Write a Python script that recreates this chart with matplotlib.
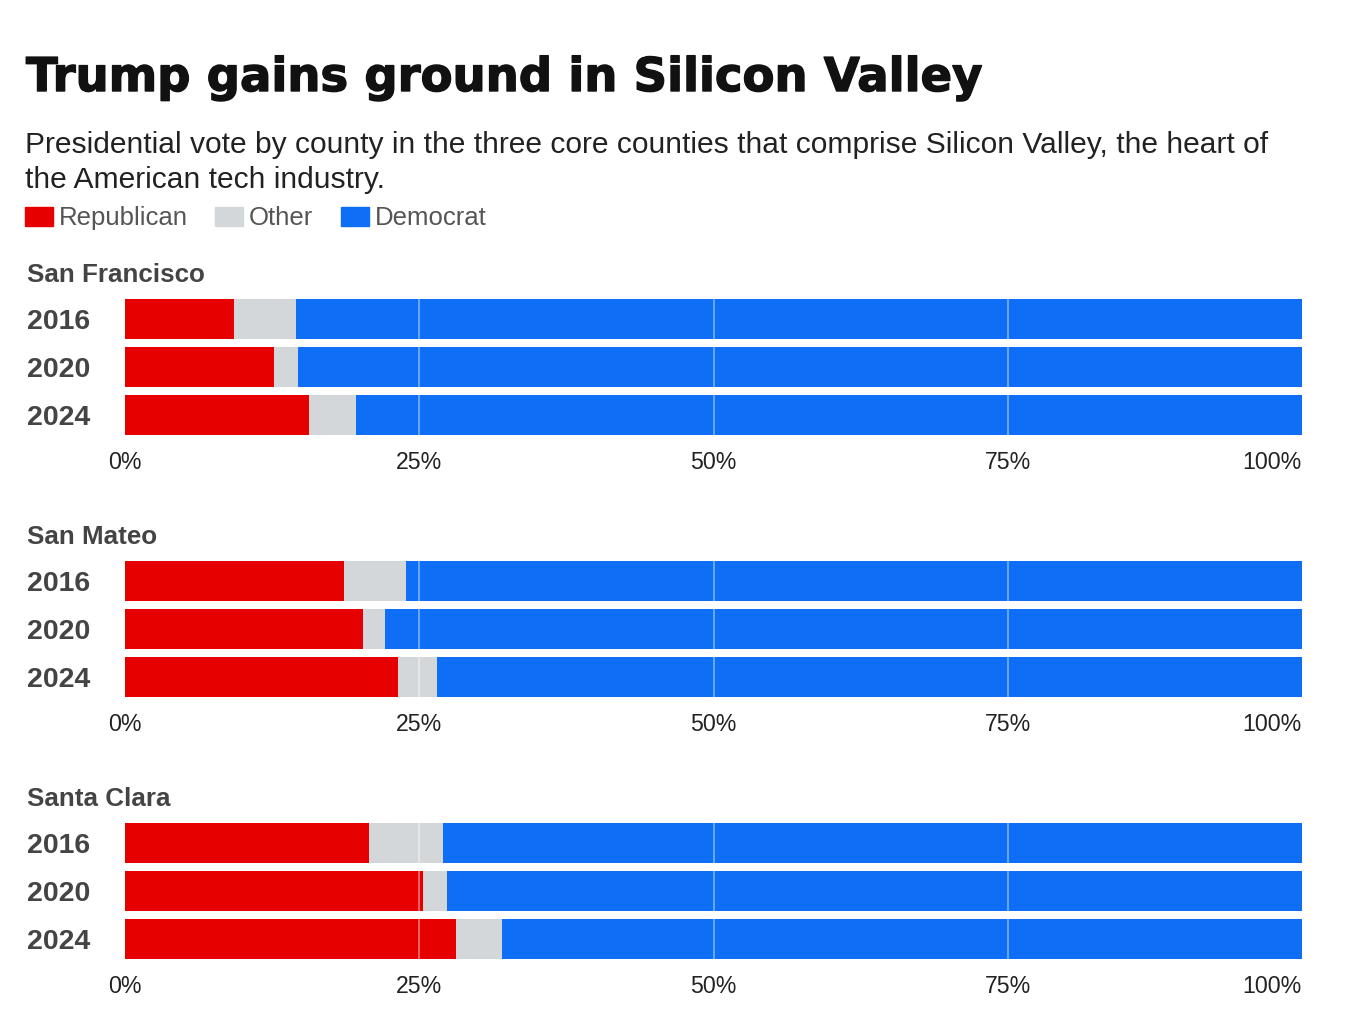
import matplotlib
matplotlib.use("Agg")
import matplotlib.pyplot as plt
import matplotlib.patheffects as pe
from matplotlib.patches import Rectangle

# vote share (%)
counties = ["San Francisco", "San Mateo", "Santa Clara"]
years = ["2016", "2020", "2024"]
republican = [[9.3, 12.7, 15.6], [18.6, 20.2, 23.2], [20.7, 25.3, 28.1]]
other = [[5.2, 2.0, 4.0], [5.3, 1.9, 3.3], [6.3, 2.1, 3.9]]
ticks = [0, 25, 50, 75, 100]
tick_labels = ["0%", "25%", "50%", "75%", "100%"]

RED = "#e60000"
GREY = "#d4d7d9"
BLUE = "#0e6ef5"
DARK = "#444444"

plt.rcParams["font.family"] = ["Liberation Sans", "DejaVu Sans"]

W, H = 1354, 1020
fig = plt.figure(figsize=(W / 100, H / 100), dpi=100)


def fx(px):
    return px / W


def fy(py):
    return 1 - py / H


fig.text(fx(26), fy(92), "Trump gains ground in Silicon Valley", fontsize=33.5,
         fontweight="bold", family="DejaVu Sans", color="#111111", va="baseline",
         path_effects=[pe.withStroke(linewidth=1.0, foreground="#111111")])
fig.text(fx(25), fy(153), "Presidential vote by county in the three core counties that "
         "comprise Silicon Valley, the heart of", fontsize=21.6, color="#222222", va="baseline")
fig.text(fx(25), fy(188), "the American tech industry.", fontsize=21.6,
         color="#222222", va="baseline")

# legend
for x0, lab, col in [(25, "Republican", RED), (215, "Other", GREY), (341, "Democrat", BLUE)]:
    fig.patches.append(Rectangle((fx(x0), fy(227)), fx(28), 19 / H, color=col,
                                 transform=fig.transFigure, figure=fig))
    fig.text(fx(x0 + 34), fy(225), lab, fontsize=18.5, color="#555555", va="baseline")

tops = [300, 562, 824]
for i, county in enumerate(counties):
    top = tops[i]
    ax = fig.add_axes([fx(125), fy(top + 136), fx(1177), 136 / H])
    rep = republican[i]
    oth = other[i]
    dem = [100 - r - o for r, o in zip(rep, oth)]
    left_o = rep
    left_d = [r + o for r, o in zip(rep, oth)]
    ypos = range(len(years))
    ax.barh(ypos, rep, height=40 / 48, color=RED, zorder=2)
    ax.barh(ypos, oth, left=left_o, height=40 / 48, color=GREY, zorder=2)
    ax.barh(ypos, dem, left=left_d, height=40 / 48, color=BLUE, zorder=2)
    for t in ticks[1:-1]:
        ax.axvline(t, color="white", alpha=0.45, lw=1.2, zorder=3)
    ax.set_xlim(0, 100)
    ax.set_ylim(2 + 20 / 48, -20 / 48)
    ax.set_yticks([])
    ax.set_xticks(ticks)
    ax.set_xticklabels(tick_labels, fontsize=16.7, color="#222222")
    ax.get_xticklabels()[-1].set_ha("right")
    ax.tick_params(axis="x", length=0, pad=11)
    for s in ax.spines.values():
        s.set_visible(False)
    for j, yr in enumerate(years):
        fig.text(fx(27), fy(top + 22 + 48 * j), yr, fontsize=20.5, fontweight="bold",
                 color=DARK, va="center")
    fig.text(fx(27), fy(top - 25), county, fontsize=18.7, fontweight="bold",
             color=DARK, va="center")

fig.savefig("out.png", dpi=100, facecolor="white")
